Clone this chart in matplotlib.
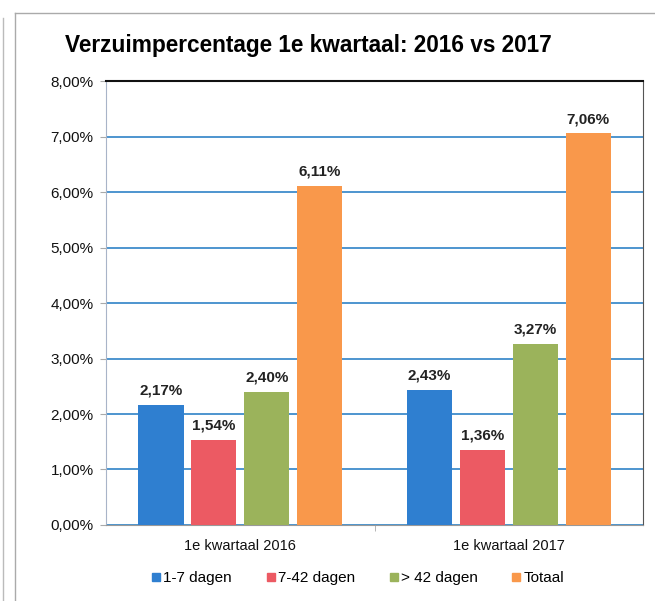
import matplotlib.pyplot as plt
import numpy as np
from matplotlib.lines import Line2D

plt.rcParams['font.family'] = ['Liberation Sans', 'DejaVu Sans']

# data
categories = ["1e kwartaal 2016", "1e kwartaal 2017"]
series = ["1-7 dagen", "7-42 dagen", "> 42 dagen", "Totaal"]
values = {
    "1-7 dagen": [2.17, 2.43],
    "7-42 dagen": [1.54, 1.36],
    "> 42 dagen": [2.40, 3.27],
    "Totaal": [6.11, 7.06],
}
colors = ["#2f7fd0", "#ec5a63", "#9bb35b", "#f9984b"]
yticks = [0, 1, 2, 3, 4, 5, 6, 7, 8]

fig = plt.figure(figsize=(6.55, 6.01), dpi=100)
ax = fig.add_axes([0.162, 0.1265, 0.82, 0.7385])

x = np.arange(len(categories))
step = 0.197
width = 0.168
for i, s in enumerate(series):
    pos = x + (i - 1.5) * step
    bars = ax.bar(pos, values[s], width, color=colors[i], zorder=3)
    for b, v in zip(bars, values[s]):
        ax.text(b.get_x() + b.get_width() / 2, v + 0.13, ("%.2f%%" % v).replace(".", ","),
                ha="center", va="bottom", fontsize=11, fontweight="bold", color="#222222")

ax.set_xlim(-0.5, 1.5)
ax.set_ylim(0, 8)
ax.set_yticks(yticks)
ax.set_yticklabels([("%.2f%%" % t).replace(".", ",") for t in yticks], fontsize=11, color="#111111")
ax.yaxis.grid(True, color="#3f8ccb", linewidth=1.3, zorder=0)
ax.set_axisbelow(True)

ax.set_xticks(x)
ax.set_xticklabels(categories, fontsize=10.5, color="#111111")
ax.tick_params(axis="x", length=0, pad=10)
ax.tick_params(axis="y", length=4, color="#aaaaaa", pad=5)
ax.set_xticks([0.5], minor=True)
ax.tick_params(axis="x", which="minor", length=4, color="#aaaaaa")

ax.spines["top"].set_color("#111111")
ax.spines["top"].set_linewidth(1.5)
ax.spines["left"].set_color("#a8b4c8")
ax.spines["bottom"].set_color("#999999")
ax.spines["right"].set_color("#555555")

fig.text(0.099, 0.925, "Verzuimpercentage 1e kwartaal: 2016 vs 2017", fontsize=16.3,
         fontweight="bold", ha="left", va="center")

handles = [Line2D([0], [0], marker="s", linestyle="", markersize=6,
                  markerfacecolor=c, markeredgecolor=c) for c in colors]
fig.legend(handles, series, loc="center", bbox_to_anchor=(0.545, 0.038), ncol=4,
           frameon=False, fontsize=11, handletextpad=0.05, columnspacing=2.15,
           handlelength=0.8)

# outer frame of the chart object
fig.add_artist(Line2D([0.023, 0.023], [0.0, 0.978], transform=fig.transFigure, color="#aaaaaa", linewidth=1))
fig.add_artist(Line2D([0.023, 1.0], [0.978, 0.978], transform=fig.transFigure, color="#aaaaaa", linewidth=1))
fig.add_artist(Line2D([0.004, 0.004], [0.0, 0.97], transform=fig.transFigure, color="#bbbbbb", linewidth=1))

fig.savefig("out.png", dpi=100)
